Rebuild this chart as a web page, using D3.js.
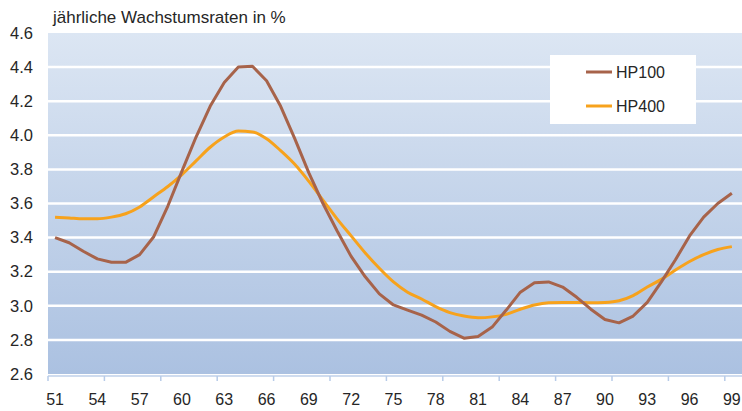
<!DOCTYPE html>
<html lang="de">
<head>
    <meta charset="UTF-8">
    <script src="https://d3js.org/d3.v7.min.js"></script>
    <style>
        body { margin: 0; background: #fff; }
        text { font-family: "Liberation Sans", Arial, sans-serif; fill: #262626; }
    </style>
</head>
<body>
    <svg id="chart" width="742" height="411"></svg>

    <script>
        // Jahre 1951 - 1999 (Beschriftung zweistellig)
        const years = d3.range(51, 100);

        const hp100 = [3.40, 3.37, 3.32, 3.275, 3.255, 3.255, 3.30, 3.405, 3.585, 3.79,
                       3.99, 4.17, 4.31, 4.40, 4.405, 4.32, 4.17, 3.98, 3.78, 3.60,
                       3.44, 3.29, 3.17, 3.07, 3.005, 2.975, 2.945, 2.905, 2.85, 2.81,
                       2.82, 2.875, 2.975, 3.08, 3.135, 3.14, 3.11, 3.05, 2.98, 2.92,
                       2.90, 2.94, 3.02, 3.14, 3.27, 3.41, 3.52, 3.60, 3.66];

        const hp400 = [3.52, 3.515, 3.51, 3.51, 3.52, 3.54, 3.58, 3.64, 3.70, 3.77,
                       3.85, 3.93, 3.99, 4.025, 4.02, 3.98, 3.91, 3.83, 3.73, 3.62,
                       3.51, 3.41, 3.31, 3.22, 3.14, 3.08, 3.04, 2.995, 2.96, 2.94,
                       2.93, 2.935, 2.95, 2.98, 3.005, 3.018, 3.02, 3.02, 3.018, 3.02,
                       3.03, 3.06, 3.11, 3.155, 3.21, 3.26, 3.30, 3.33, 3.347];

        const yTicks = [2.6, 2.8, 3.0, 3.2, 3.4, 3.6, 3.8, 4.0, 4.2, 4.4, 4.6];
        const xLabelYears = years.filter((d, i) => i % 3 === 0);
        const xTickYears = years.filter((d, i) => i % 4 === 0);

        const seriesNames = ["HP100", "HP400"];
        const colors = ["#a7634a", "#f7a21c"];

        const width = 742, height = 411;
        const margin = { top: 33, right: 0, bottom: 37, left: 48 };

        const svg = d3.select("#chart");

        const x = d3.scaleBand()
            .domain(years)
            .range([margin.left, margin.left + years.length * 14.1]);

        const y = d3.scaleLinear()
            .domain([2.6, 4.6])
            .range([height - margin.bottom, margin.top]);

        // Hintergrund mit Verlauf
        const grad = svg.append("defs").append("linearGradient")
            .attr("id", "bg")
            .attr("x1", 0).attr("y1", 0).attr("x2", 0).attr("y2", 1);
        grad.append("stop").attr("offset", "0%").attr("stop-color", "#dce6f3");
        grad.append("stop").attr("offset", "100%").attr("stop-color", "#abc1e1");

        svg.append("rect")
            .attr("x", margin.left)
            .attr("y", y(4.6))
            .attr("width", width - margin.left)
            .attr("height", y(2.6) - y(4.6))
            .attr("fill", "url(#bg)");

        // Gitterlinien
        svg.selectAll(".grid")
            .data(yTicks.slice(1, -1))
            .enter().append("line")
            .attr("x1", margin.left)
            .attr("x2", width)
            .attr("y1", d => y(d))
            .attr("y2", d => y(d))
            .attr("stroke", "#fff")
            .attr("stroke-width", 2.5);

        // Y-Achse Beschriftung
        svg.selectAll(".ylabel")
            .data(yTicks)
            .enter().append("text")
            .attr("x", 33)
            .attr("y", d => y(d))
            .attr("dy", "0.35em")
            .attr("text-anchor", "end")
            .style("font-size", "16.5px")
            .text(d => d.toFixed(1));

        // X-Achse
        const axisY = y(2.6) + 2;
        svg.append("line")
            .attr("x1", margin.left)
            .attr("x2", width)
            .attr("y1", axisY)
            .attr("y2", axisY)
            .attr("stroke", "#cfdcef")
            .attr("stroke-width", 2);

        svg.selectAll(".xtick")
            .data(xTickYears)
            .enter().append("line")
            .attr("x1", d => x(d))
            .attr("x2", d => x(d))
            .attr("y1", axisY)
            .attr("y2", axisY + 5)
            .attr("stroke", "#b7cbe8")
            .attr("stroke-width", 1.5);

        svg.selectAll(".xlabel")
            .data(xLabelYears)
            .enter().append("text")
            .attr("x", d => x(d) + x.bandwidth() / 2)
            .attr("y", 405)
            .attr("text-anchor", "middle")
            .style("font-size", "16px")
            .text(d => d);

        // Linien
        const line = d3.line()
            .x((d, i) => x(years[i]) + x.bandwidth() / 2)
            .y(d => y(d));

        svg.append("path")
            .datum(hp400)
            .attr("fill", "none")
            .attr("stroke", colors[1])
            .attr("stroke-width", 3)
            .attr("stroke-linejoin", "round")
            .attr("d", line.curve(d3.curveMonotoneX));

        svg.append("path")
            .datum(hp100)
            .attr("fill", "none")
            .attr("stroke", colors[0])
            .attr("stroke-width", 3)
            .attr("stroke-linejoin", "round")
            .attr("d", line.curve(d3.curveLinear));

        // Legende
        const legend = svg.append("g");
        legend.append("rect")
            .attr("x", 550).attr("y", 55)
            .attr("width", 146).attr("height", 69)
            .attr("fill", "#fff");

        seriesNames.forEach((name, i) => {
            const ly = 72 + i * 34;
            legend.append("line")
                .attr("x1", 586).attr("x2", 612)
                .attr("y1", ly).attr("y2", ly)
                .attr("stroke", colors[i])
                .attr("stroke-width", 3);
            legend.append("text")
                .attr("x", 616)
                .attr("y", ly)
                .attr("dy", "0.35em")
                .style("font-size", "16px")
                .text(name);
        });

        // Titel
        svg.append("text")
            .attr("x", 53)
            .attr("y", 23)
            .style("font-size", "17px")
            .text("jährliche Wachstumsraten in %");
    </script>
</body>
</html>
